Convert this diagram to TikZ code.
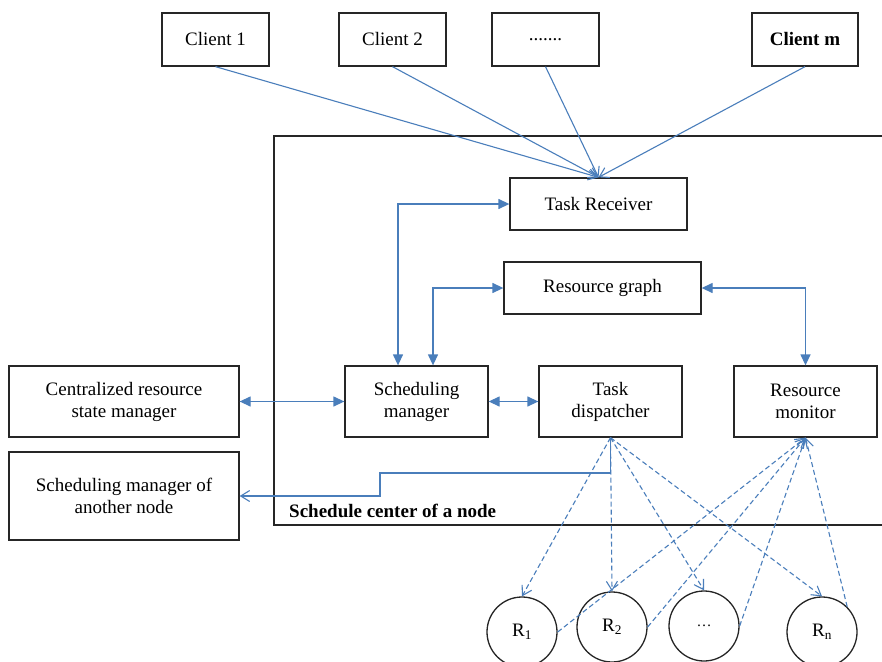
\documentclass[tikz,border=0pt]{standalone}
\usepackage{fontspec}
\setmainfont{Liberation Serif}
\usetikzlibrary{arrows.meta,positioning}
\definecolor{linkblue}{HTML}{4A7EBB}
\definecolor{edgegray}{HTML}{262626}
\tikzset{
  box/.style={draw=edgegray,line width=1.3pt,align=center,inner sep=2pt,font=\fontsize{19}{22}\selectfont},
  res/.style={draw=edgegray,line width=1.3pt,circle,minimum size=70pt,inner sep=0pt,font=\fontsize{19}{22}\selectfont},
  ar/.style={-{Straight Barb[length=9pt,width=11pt]},linkblue,line width=1.1pt},
  dar/.style={ar,dash pattern=on 5pt off 3pt},
  biar/.style={{Triangle[length=11pt,width=10pt]}-{Triangle[length=11pt,width=10pt]},linkblue,line width=1.3pt}
}
\begin{document}
\begin{tikzpicture}[x=1pt,y=-1pt]
\clip (0,0) rectangle (882,661);
\fill[white] (0,0) rectangle (882,661);
% frame of the schedule center
\draw[edgegray,line width=1.3pt] (900,136) -| (274,525) -- (900,525);
\node[font=\bfseries\fontsize{19}{22}\selectfont,anchor=base west,inner sep=0pt] (title) at (289,517) {Schedule center of a node};
% clients
\node[box,minimum width=107pt,minimum height=53pt] (c1) at (215.5,39.5) {Client 1};
\node[box,minimum width=107pt,minimum height=53pt] (c2) at (392.5,39.5) {Client 2};
\node[box,minimum width=107pt,minimum height=53pt] (cdots) at (545.5,39.5) {.......};
\node[box,minimum width=106pt,minimum height=53pt] (cm) at (805,39.5) {\textbf{Client m}};
% schedule center parts
\node[box,minimum width=177pt,minimum height=52pt] (recv) at (598.5,204) {Task Receiver};
\node[box,minimum width=197pt,minimum height=52pt] (graph) at (602.5,288) {Resource graph};
\node[box,minimum width=143pt,minimum height=71pt] (sched) at (416.5,401.5) {Scheduling\\manager};
\node[box,minimum width=143pt,minimum height=71pt] (disp) at (610.5,401.5) {Task\\dispatcher};
\node[box,minimum width=143pt,minimum height=71pt] (mon) at (805.5,401.5) {Resource\\monitor};
% outside parts
\node[box,minimum width=230pt,minimum height=71pt] (cent) at (124,401.5) {Centralized resource\\state manager};
\node[box,minimum width=230pt,minimum height=88pt] (other) at (124,496) {Scheduling manager of\\another node};
% resources
\node[res] (r1) at (522,632) {R\textsubscript{1}};
\node[res] (r2) at (612,627) {R\textsubscript{2}};
\node[res] (rdots) at (704,626) {\fontsize{15}{18}\selectfont\dots};
\node[res] (rn) at (822,632) {R\textsubscript{n}};
% connectors
\draw[ar] (c1.south) -- (recv.north);
\draw[ar] (c2.south) -- (recv.north);
\draw[ar] (cdots.south) -- (recv.north);
\draw[ar] (cm.south) -- (recv.north);
\draw[biar] ([xshift=-18.5pt]sched.north) |- (recv.west);
\draw[biar] ([xshift=16.5pt]sched.north) |- (graph.west);
\draw[biar] (graph.east) -| (mon.north);
\draw[biar] (cent.east) -- (sched.west);
\draw[biar] (sched.east) -- (disp.west);
\draw[ar] (disp.south) |- (380,473) |- (other.east);
\draw[dar] (disp.south) -- (r1.north);
\draw[dar] (disp.south) -- (r2.north);
\draw[dar] (disp.south) -- (rdots.north);
\draw[dar] (disp.south) -- (rn.north);
\draw[dar] (r1.east) -- (mon.south);
\draw[dar] (r2.east) -- (mon.south);
\draw[dar] (rdots.east) -- (mon.south);
\draw[dar] (rn.45) -- (mon.south);
\end{tikzpicture}
\end{document}
